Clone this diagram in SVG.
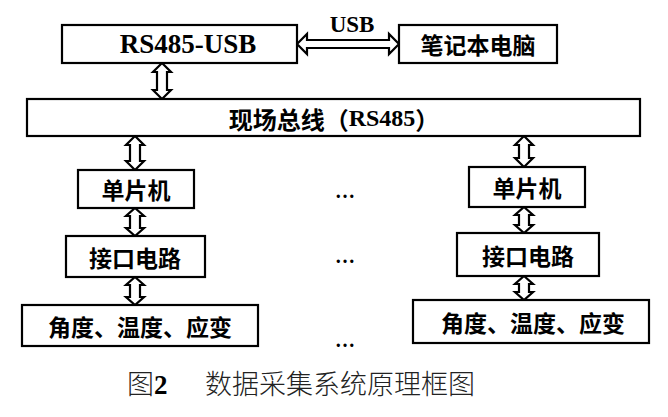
<svg xmlns="http://www.w3.org/2000/svg" width="668" height="417" viewBox="0 0 668 417">
<style>
.box{fill:#fff;stroke:#000;stroke-width:2.2}
.arr{fill:#fff;stroke:#000;stroke-width:2.2;stroke-linejoin:miter}
.cj{font-family:"Noto Sans CJK SC","Noto Sans",sans-serif;font-size:23px;font-weight:700;fill:#000;text-anchor:middle;dominant-baseline:central}
.lat{font-family:"Liberation Serif","Times New Roman",serif;font-weight:700;fill:#000}
.dots{font-family:"Liberation Serif",serif;font-size:20px;font-weight:700;text-anchor:middle;fill:#000}
.cap{font-family:"Noto Sans CJK SC",sans-serif;font-size:27px;font-weight:300;fill:#222}
</style>
<rect width="668" height="417" fill="#fff"/>
<g id="connectors">
<path class="arr" d="M297,44 L307,34 L307,40 L389,40 L389,34 L399,44 L389,54 L389,48 L307,48 L307,54 Z"/>
<text class="lat" x="352" y="32" font-size="23" text-anchor="middle">USB</text>
<path class="arr" d="M162,63 L171,72 L167,72 L167,90 L171,90 L162,99 L153,90 L157,90 L157,72 L153,72 Z"/>
<path class="arr" d="M135,136 L144,145 L140,145 L140,161 L144,161 L135,170 L126,161 L130,161 L130,145 L126,145 Z"/>
<path class="arr" d="M135,208 L144,216 L140,216 L140,228 L144,228 L135,236 L126,228 L130,228 L130,216 L126,216 Z"/>
<path class="arr" d="M135,277 L144,285 L140,285 L140,297 L144,297 L135,305 L126,297 L130,297 L130,285 L126,285 Z"/>
<path class="arr" d="M524,136 L533,145 L529,145 L529,158 L533,158 L524,167 L515,158 L519,158 L519,145 L515,145 Z"/>
<path class="arr" d="M524,207 L533,215 L529,215 L529,225 L533,225 L524,233 L515,225 L519,225 L519,215 L515,215 Z"/>
<path class="arr" d="M524,276 L533,284 L529,284 L529,292 L533,292 L524,300 L515,292 L519,292 L519,284 L515,284 Z"/>
</g>
<g id="rs485usb"><rect class="box" x="62" y="25" width="235" height="38"/><text class="lat" x="188" y="53" font-size="27" text-anchor="middle">RS485-USB</text></g>
<g id="laptop"><rect class="box" x="399" y="25" width="158" height="38"/><text class="cj" x="478" y="44">笔记本电脑</text></g>
<g id="bus"><rect class="box" x="27" y="99" width="613" height="37"/><text class="cj" x="334" y="118" style="font-size:24px">现场总线（<tspan class="lat">RS485</tspan>）</text></g>
<g id="mcu1"><rect class="box" x="78" y="170" width="116" height="38"/><text class="cj" x="136" y="189">单片机</text></g>
<g id="if1"><rect class="box" x="66" y="236" width="139" height="41"/><text class="cj" x="135" y="257">接口电路</text></g>
<g id="sensor1"><rect class="box" x="22" y="305" width="236" height="41"/><text class="cj" x="140" y="326">角度、温度、应变</text></g>
<g id="mcu2"><rect class="box" x="469" y="167" width="116" height="40"/><text class="cj" x="527" y="187">单片机</text></g>
<g id="if2"><rect class="box" x="457" y="233" width="142" height="43"/><text class="cj" x="528" y="255">接口电路</text></g>
<g id="sensor2"><rect class="box" x="413" y="300" width="236" height="43"/><text class="cj" x="533" y="322">角度、温度、应变</text></g>
<g id="ellipses">
<text class="dots" x="345" y="198">…</text>
<text class="dots" x="345" y="263">…</text>
<text class="dots" x="345" y="347">…</text>
</g>
<g id="caption"><text class="cap" x="127" y="394">图<tspan class="lat" font-size="27">2</tspan><tspan x="205">数据采集系统原理框图</tspan></text></g>
</svg>
